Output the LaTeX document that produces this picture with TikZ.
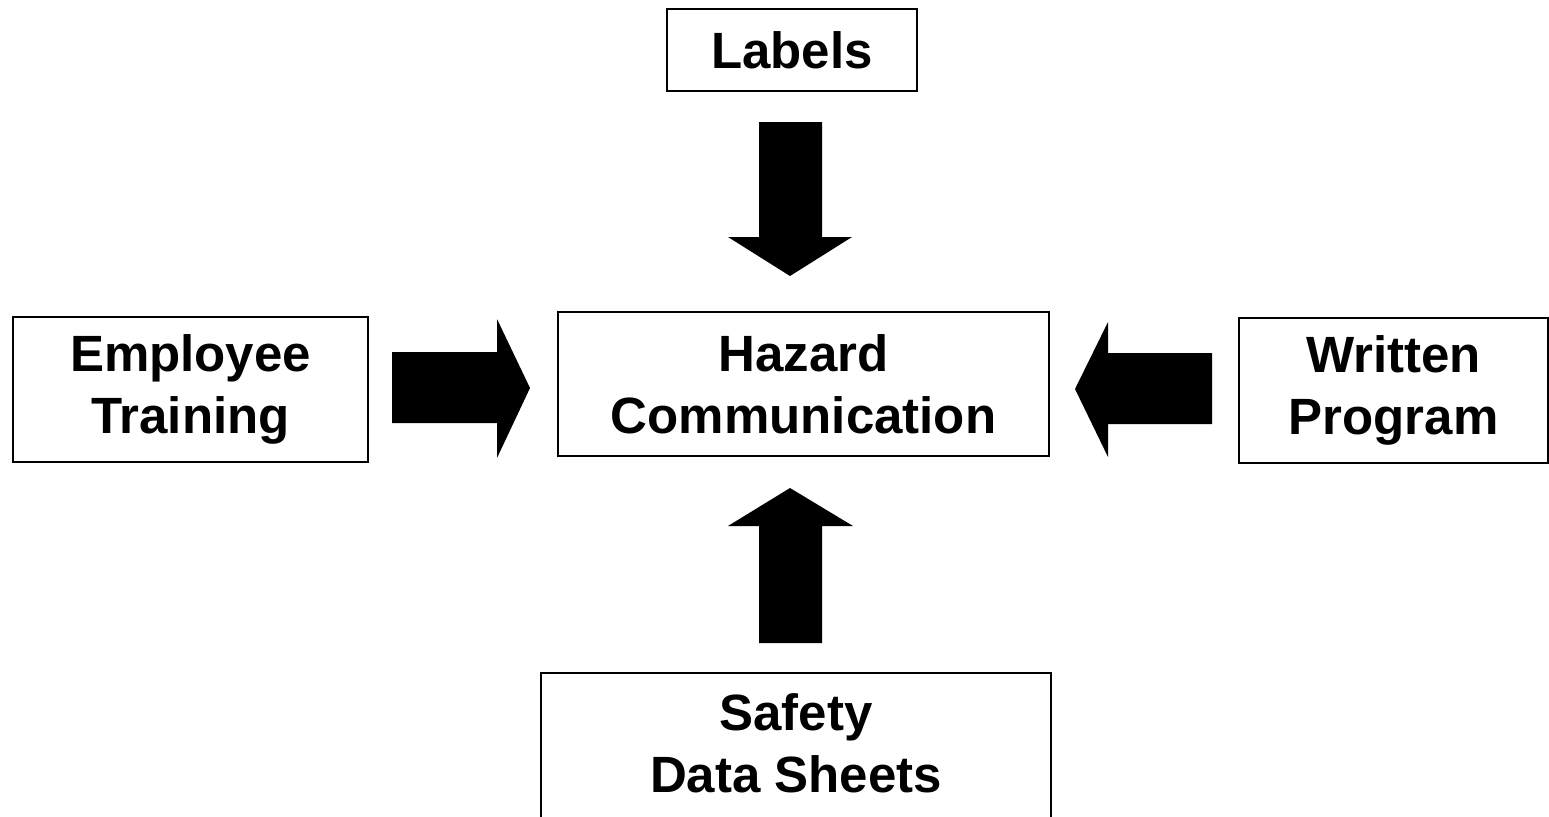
\documentclass[tikz,border=0pt]{standalone}
\usepackage{fontspec}
\setmainfont{Liberation Sans}
\begin{document}
\begin{tikzpicture}[x=1pt,y=-1pt,
  txt/.style={inner sep=0pt,align=center,font=\fontsize{51}{62}\selectfont\bfseries},
  box/.style={txt,draw=black,line width=1.5pt,fill=white},
  blockarrow/.style={fill=black,draw=none}]
\useasboundingbox (0,0) rectangle (1549,816);
\begin{scope}
\clip (0,0) rectangle (1549,816);
\node[box,minimum width=250pt,minimum height=82pt] (labels) at (792,50) {Labels};
\node[box,minimum width=491pt,minimum height=144pt] (hazard) at (803.5,384) {Hazard\\Communication};
\node[box,minimum width=355pt,minimum height=145pt] (employee) at (190.5,389.5) {Employee\\Training};
\node[box,minimum width=309pt,minimum height=145pt] (written) at (1393.5,390.5) {Written\\Program};
\node[box,minimum width=510pt,minimum height=170pt] (safety) at (796,758) {};
\node[txt] (safetytext) at (796,743) {Safety\\Data Sheets};
% down arrow (Labels -> Hazard)
\fill[blockarrow] (759,122) -- (822,122) -- (822,237) -- (852,237) -- (790,276) -- (728,237) -- (759,237) -- cycle;
% right arrow (Employee -> Hazard)
\fill[blockarrow] (392,352) -- (497,352) -- (497,319) -- (530,388) -- (497,458) -- (497,423) -- (392,423) -- cycle;
% left arrow (Written -> Hazard)
\fill[blockarrow] (1212,353) -- (1108,353) -- (1108,322) -- (1075,389) -- (1108,457) -- (1108,424) -- (1212,424) -- cycle;
% up arrow (Safety -> Hazard)
\fill[blockarrow] (759,643) -- (822,643) -- (822,526) -- (853,526) -- (790,488) -- (728,526) -- (759,526) -- cycle;
\end{scope}
\end{tikzpicture}
\end{document}
